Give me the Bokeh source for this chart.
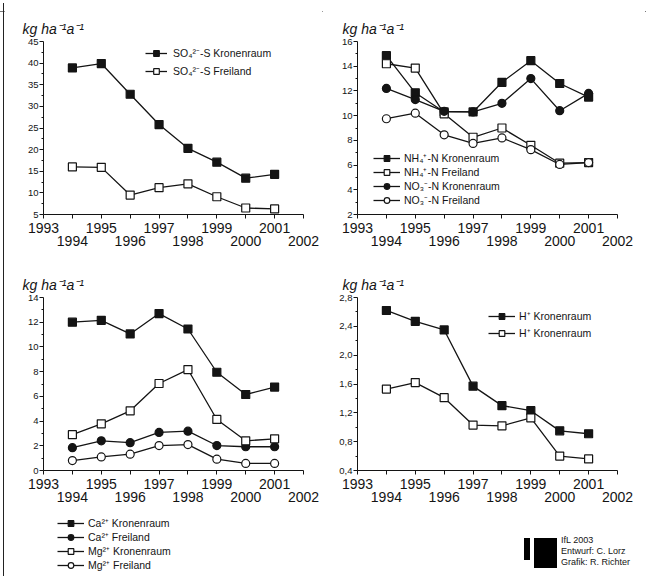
from bokeh.plotting import figure
from bokeh.models import (Range1d, FixedTicker, LinearAxis, Legend, LegendItem, Div)
from bokeh.layouts import column, row
from bokeh.embed import file_html
from bokeh.resources import INLINE

# ---------------- data ----------------
years = [1994, 1995, 1996, 1997, 1998, 1999, 2000, 2001]
axis_years = [1993, 1994, 1995, 1996, 1997, 1998, 1999, 2000, 2001, 2002]

so4_kronenraum = [38.9, 39.9, 32.8, 25.8, 20.3, 17.1, 13.4, 14.3]
so4_freiland = [16.0, 15.9, 9.5, 11.2, 12.1, 9.1, 6.5, 6.3]

nh4_kronenraum = [14.85, 11.85, 10.3, 10.3, 12.7, 14.45, 12.6, 11.5]
nh4_freiland = [14.2, 13.85, 10.15, 8.25, 9.0, 7.6, 6.15, 6.2]
no3_kronenraum = [12.2, 11.3, 10.35, 10.3, 11.0, 13.0, 10.4, 11.8]
no3_freiland = [9.75, 10.2, 8.45, 7.75, 8.2, 7.25, 6.05, 6.2]

ca_kronenraum = [12.0, 12.15, 11.05, 12.7, 11.45, 7.95, 6.15, 6.75]
ca_freiland = [1.85, 2.4, 2.25, 3.08, 3.18, 2.02, 1.92, 1.92]
mg_kronenraum = [2.9, 3.78, 4.83, 7.04, 8.17, 4.13, 2.4, 2.56]
mg_freiland = [0.8, 1.1, 1.32, 2.02, 2.1, 0.92, 0.57, 0.57]

h_kronenraum = [2.62, 2.47, 2.35, 1.57, 1.30, 1.23, 0.95, 0.91]
h_kronenraum_2 = [1.53, 1.62, 1.41, 1.03, 1.02, 1.13, 0.60, 0.56]

yticks_so4 = [5, 10, 15, 20, 25, 30, 35, 40, 45]
yticks_n = [2, 4, 6, 8, 10, 12, 14, 16]
yticks_ca = [0, 2, 4, 6, 8, 10, 12, 14]
yticks_h = [0.4, 0.8, 1.2, 1.6, 2.0, 2.4, 2.8]
ylabels_h = ["0,4", "0,8", "1,2", "1,6", "2,0", "2,4", "2,8"]

unit_title = "kg ha\u207b\u00b9a\u207b\u00b9"
credits = ["IfL 2003", "Entwurf: C. Lorz", "Grafik: R. Richter"]

FONT = "Liberation Sans"
INK = "#141414"


def make_panel(yticks, left, right, top, bottom, title_offset, ylabels=None):
    p = figure(frame_width=260, frame_height=173,
               x_range=Range1d(axis_years[0], axis_years[-1]),
               y_range=Range1d(yticks[0], yticks[-1]),
               min_border_left=left, min_border_right=right,
               min_border_top=top, min_border_bottom=bottom,
               output_backend="svg", toolbar_location=None,
               background_fill_color="white", border_fill_color="white")
    p.outline_line_color = None
    p.grid.visible = False
    p.title.text = unit_title
    p.title.text_font = FONT
    p.title.text_font_style = "italic"
    p.title.text_font_size = "14px"
    p.title.text_color = INK
    p.title.align = "left"
    p.title.offset = title_offset
    p.title.standoff = 9

    xa = p.xaxis[0]
    xa.ticker = FixedTicker(ticks=axis_years, minor_ticks=[])
    xa.major_label_overrides = {y: (str(y) if y % 2 == 1 else "") for y in axis_years}
    xa.major_tick_out = 4
    xa.major_tick_in = 0
    xa.major_label_standoff = 4
    xa.axis_line_color = INK
    xa.major_tick_line_color = INK
    xa.major_label_text_font = FONT
    xa.major_label_text_font_size = "14px"
    xa.major_label_text_color = INK

    xb = LinearAxis(ticker=FixedTicker(ticks=[y for y in axis_years if y % 2 == 0], minor_ticks=[]))
    xb.axis_line_color = None
    xb.major_tick_line_color = None
    xb.minor_tick_line_color = None
    xb.major_tick_out = 0
    xb.major_tick_in = 0
    xb.major_label_standoff = 0
    xb.major_label_text_font = FONT
    xb.major_label_text_font_size = "14px"
    xb.major_label_text_color = INK
    p.add_layout(xb, "below")

    ya = p.yaxis[0]
    mids = [(a + b) / 2 for a, b in zip(yticks[:-1], yticks[1:])]
    ya.ticker = FixedTicker(ticks=yticks, minor_ticks=mids)
    if ylabels is not None:
        ya.major_label_overrides = dict(zip(yticks, ylabels))
    ya.major_tick_out = 4
    ya.major_tick_in = 0
    ya.minor_tick_out = 2
    ya.minor_tick_in = 0
    ya.major_label_standoff = 1
    ya.axis_line_color = INK
    ya.major_tick_line_color = INK
    ya.minor_tick_line_color = INK
    ya.major_label_text_font = FONT
    ya.major_label_text_font_size = "9.5px"
    ya.major_label_text_color = INK
    return p


def series(p, xs, vals, marker, filled, size=8):
    ln = p.line(xs, vals, line_color=INK, line_width=1.3)
    mk = p.scatter(xs, vals, marker=marker, size=size, line_color=INK, line_width=1.2,
                   fill_color=INK if filled else "white")
    return [ln, mk]


def style_legend(lg, glyph_w, standoff, row_h, spacing):
    lg.glyph_width = glyph_w
    lg.glyph_height = row_h
    lg.label_height = row_h
    lg.label_standoff = standoff
    lg.spacing = spacing
    lg.padding = 0
    lg.margin = 0
    lg.border_line_color = None
    lg.background_fill_alpha = 0
    lg.label_text_font = FONT
    lg.label_text_font_size = "10.5px"
    lg.label_text_color = INK
    lg.label_text_baseline = "middle"


# ---- panel 1: sulphate ----
p1 = make_panel(yticks_so4, 39, 19, 38, 44, -21)
r1 = series(p1, years, so4_kronenraum, "square", True)
r2 = series(p1, years, so4_freiland, "square", False)
lg1 = Legend(items=[LegendItem(label="SO\u2084\u00b2\u207b-S Kronenraum", renderers=r1),
                    LegendItem(label="SO\u2084\u00b2\u207b-S Freiland", renderers=r2)],
             location=(102, 136))
style_legend(lg1, 22, 6, 14, 4)
p1.add_layout(lg1)

# ---- panel 2: nitrogen ----
p2 = make_panel(yticks_n, 35, 28, 38, 44, -15)
r1 = series(p2, years, nh4_kronenraum, "square", True)
r2 = series(p2, years, nh4_freiland, "square", False)
r3 = series(p2, years, no3_kronenraum, "circle", True)
r4 = series(p2, years, no3_freiland, "circle", False)
lg2 = Legend(items=[LegendItem(label="NH\u2084\u207a-N Kronenraum", renderers=r1),
                    LegendItem(label="NH\u2084\u207a-N Freiland", renderers=r2),
                    LegendItem(label="NO\u2083\u207b-N Kronenraum", renderers=r3),
                    LegendItem(label="NO\u2083\u207b-N Freiland", renderers=r4)],
             location=(16, 7))
style_legend(lg2, 27, 4, 14, 0)
p2.add_layout(lg2)

# ---- panel 3: calcium / magnesium ----
p3 = make_panel(yticks_ca, 39, 19, 39, 42, -21)
series(p3, years, ca_kronenraum, "square", True)
series(p3, years, ca_freiland, "circle", True)
series(p3, years, mg_kronenraum, "square", False)
series(p3, years, mg_freiland, "circle", False)

# legend of panel 3 sits under its axis: a legend-only strip whose view range
# lies outside the data, so only the legend keys are visible
lf = figure(width=318, height=64, x_range=Range1d(0, 1), y_range=Range1d(0, 1),
            min_border=0, output_backend="svg", toolbar_location=None,
            x_axis_location=None, y_axis_location=None,
            background_fill_color="white", border_fill_color="white")
lf.outline_line_color = None
lf.grid.visible = False
k1 = series(lf, years, ca_kronenraum, "square", True)
k2 = series(lf, years, ca_freiland, "circle", True)
k3 = series(lf, years, mg_kronenraum, "square", False)
k4 = series(lf, years, mg_freiland, "circle", False)
lg3 = Legend(items=[LegendItem(label="Ca\u00b2\u207a Kronenraum", renderers=k1),
                    LegendItem(label="Ca\u00b2\u207a Freiland", renderers=k2),
                    LegendItem(label="Mg\u00b2\u207a Kronenraum", renderers=k3),
                    LegendItem(label="Mg\u00b2\u207a Freiland", renderers=k4)],
             location=(14, 4))
style_legend(lg3, 27, 4, 14, 0)
lf.add_layout(lg3)

# ---- panel 4: protons ----
p4 = make_panel(yticks_h, 35, 28, 39, 42, -15, ylabels=ylabels_h)
r1 = series(p4, years, h_kronenraum, "square", True)
r2 = series(p4, years, h_kronenraum_2, "square", False)
lg4 = Legend(items=[LegendItem(label="H\u207a Kronenraum", renderers=r1),
                    LegendItem(label="H\u207a Kronenraum", renderers=r2)],
             location=(131, 130))
style_legend(lg4, 27, 4, 14, 3)
p4.add_layout(lg4)

# credits block (logo + text) under the H+ panel
credit_html = (
    '<div style="position:relative;width:323px;height:64px;'
    'font-family:\'Liberation Sans\',Arial,sans-serif;font-size:9px;line-height:11px;color:#141414;">'
    '<div style="position:absolute;left:202px;top:26px;width:6px;height:22px;background:#000;"></div>'
    '<div style="position:absolute;left:212px;top:26px;width:23px;height:30px;background:#000;"></div>'
    '<div style="position:absolute;left:239px;top:23px;white-space:nowrap;">'
    + "<br>".join(credits) + '</div></div>'
)
credit_div = Div(text=credit_html, width=323, height=64, margin=0)

# scanned page frame: thin rule on top and on the left
top_rule = Div(text='<div style="width:646px;height:3px;border-bottom:1px solid #777;box-sizing:border-box;"></div>',
               width=646, height=3, margin=0)
left_rule = Div(text='<div style="width:4px;height:573px;border-right:1px solid #222;box-sizing:border-box;"></div>',
                width=4, height=573, margin=0)

body = column(row(p1, p2), row(column(p3, lf), column(p4, credit_div)))
layout = column(top_rule, row(left_rule, body))
html = file_html(layout, INLINE)
open("out.html", "w").write(html)
